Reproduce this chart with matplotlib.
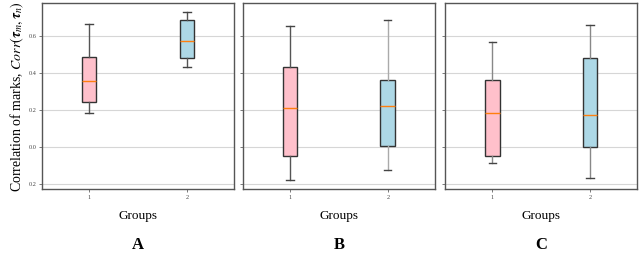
import matplotlib
matplotlib.use("Agg")
import matplotlib.pyplot as plt

plt.rcParams["font.family"] = ["Liberation Serif", "DejaVu Serif"]
plt.rcParams["mathtext.fontset"] = "stix"

# ============ 数据（从图中读取的箱线图五数概括） ============
groups = [1, 2]
panel_names = ["A", "B", "C"]

# 每个面板: [组1, 组2] 的 (下须, Q1, 中位数, Q3, 上须)
whislo = [[0.182, 0.431], [-0.182, -0.125], [-0.090, -0.171]]
q1 = [[0.245, 0.483], [-0.049, 0.004], [-0.052, -0.002]]
med = [[0.357, 0.571], [0.210, 0.221], [0.184, 0.173]]
q3 = [[0.485, 0.685], [0.430, 0.360], [0.360, 0.483]]
whishi = [[0.663, 0.731], [0.654, 0.687], [0.569, 0.658]]

yticks = [-0.2, 0.0, 0.2, 0.4, 0.6]
ytick_labels = ["0.2", "0.0", "0.2", "0.4", "0.6"]

box_colors = ["#ffc0cb", "#add8e6"]
whisker_colors = [["#555555", "#555555"], ["#555555", "#aaaaaa"], ["#888888", "#888888"]]

fig = plt.figure(figsize=(6.4, 2.54), dpi=100)
lefts = [0.066, 0.380, 0.696]
width = 0.300
bottom, top = 0.255, 0.987

for i, name in enumerate(panel_names):
    ax = fig.add_axes([lefts[i], bottom, width, top - bottom])
    stats = []
    for j in range(len(groups)):
        stats.append(dict(whislo=whislo[i][j], q1=q1[i][j], med=med[i][j],
                          q3=q3[i][j], whishi=whishi[i][j], fliers=[]))
    bp = ax.bxp(stats, positions=groups, widths=0.15, patch_artist=True,
                showfliers=False,
                medianprops=dict(color="#ff7f0e", linewidth=1.0),
                boxprops=dict(edgecolor="#333333", linewidth=1.0),
                capprops=dict(color="#444444", linewidth=1.0))
    for j, patch in enumerate(bp["boxes"]):
        patch.set_facecolor(box_colors[j])
    for j in range(len(groups)):
        for w in bp["whiskers"][2 * j:2 * j + 2]:
            w.set_color(whisker_colors[i][j])
            w.set_linewidth(1.0)

    ax.set_ylim(-0.230, 0.777)
    ax.set_xlim(0.52, 2.485)
    ax.set_yticks(yticks)
    ax.yaxis.grid(True, color="#d6d6d6", linewidth=0.8)
    ax.set_axisbelow(True)
    ax.tick_params(axis="both", labelsize=4.5, colors="#444444",
                   length=2, width=0.5, labelcolor="#444444", pad=2)
    if i == 0:
        ax.set_yticklabels(ytick_labels)
        ax.set_ylabel(r"Correlation of marks, $Corr(\boldsymbol{\tau}_m, \boldsymbol{\tau}_n)$",
                      fontsize=10, labelpad=2)
    else:
        ax.set_yticklabels([])
    ax.set_xticks(groups)
    ax.set_xticklabels([str(g) for g in groups])
    for s in ax.spines.values():
        s.set_color("#555555")
        s.set_linewidth(1.0)
    ax.set_xlabel("Groups", fontsize=9.5, labelpad=7)
    ax.text(0.5, -0.30, name, transform=ax.transAxes, ha="center", va="center",
            fontsize=12, fontweight="bold")

fig.savefig("out.png", dpi=100, facecolor="white")
